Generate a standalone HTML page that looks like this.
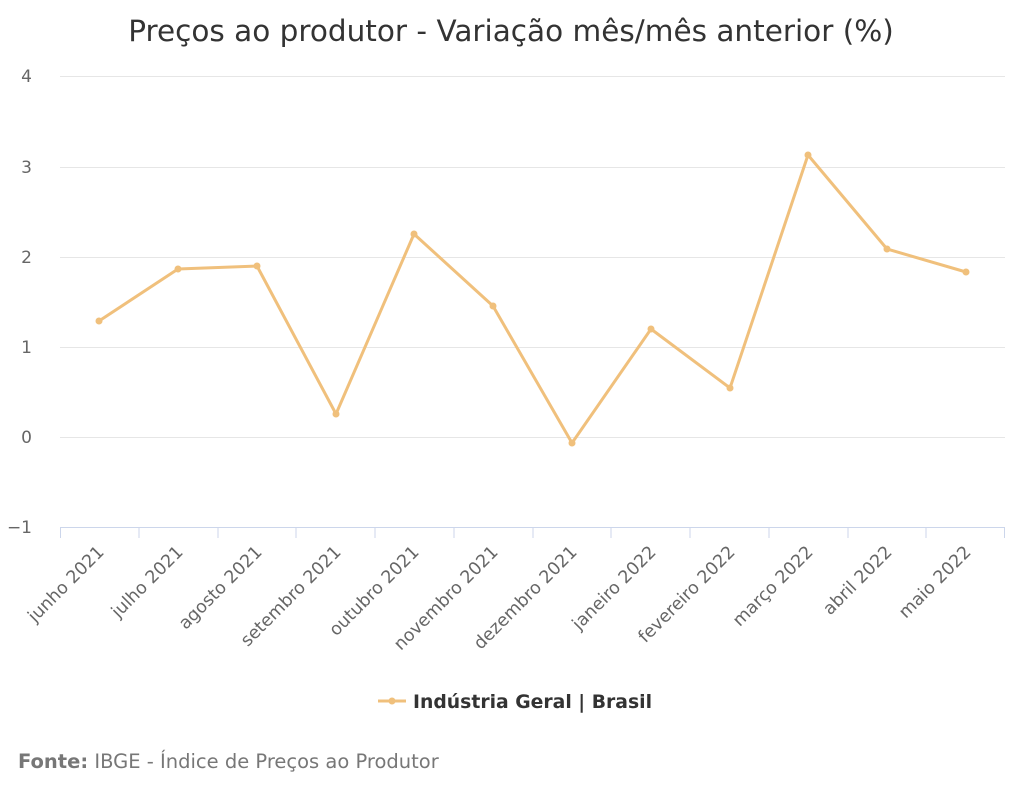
<!DOCTYPE html>
<html><head><meta charset="utf-8"><style>
html,body{margin:0;padding:0;background:#fff;}
svg{display:block;font-family:"DejaVu Sans","Liberation Sans",sans-serif;}
</style></head><body>
<svg width="1024" height="793" viewBox="0 0 1024 793">
<rect width="1024" height="793" fill="#fff"/>
<text x="511" y="41" text-anchor="middle" font-size="29.5" fill="#333">Preços ao produtor - Variação mês/mês anterior (%)</text>
<g stroke="#e6e6e6" stroke-width="1">
<line x1="60" x2="1005" y1="76.5" y2="76.5"/>
<line x1="60" x2="1005" y1="167.5" y2="167.5"/>
<line x1="60" x2="1005" y1="257.5" y2="257.5"/>
<line x1="60" x2="1005" y1="347.5" y2="347.5"/>
<line x1="60" x2="1005" y1="437.5" y2="437.5"/>
</g>
<line x1="60" x2="1005" y1="527.5" y2="527.5" stroke="#ccd6eb"/>
<g stroke="#ccd6eb">
<line x1="60.5" x2="60.5" y1="527" y2="538"/>
<line x1="139" x2="139" y1="527" y2="538"/>
<line x1="218" x2="218" y1="527" y2="538"/>
<line x1="296" x2="296" y1="527" y2="538"/>
<line x1="375" x2="375" y1="527" y2="538"/>
<line x1="454" x2="454" y1="527" y2="538"/>
<line x1="533" x2="533" y1="527" y2="538"/>
<line x1="611" x2="611" y1="527" y2="538"/>
<line x1="690" x2="690" y1="527" y2="538"/>
<line x1="769" x2="769" y1="527" y2="538"/>
<line x1="848" x2="848" y1="527" y2="538"/>
<line x1="926" x2="926" y1="527" y2="538"/>
<line x1="1004.5" x2="1004.5" y1="527" y2="538"/>
</g>
<g font-size="17" fill="#666" text-anchor="end">
<text x="32" y="82">4</text>
<text x="32" y="173">3</text>
<text x="32" y="263">2</text>
<text x="32" y="353">1</text>
<text x="32" y="443">0</text>
<text x="32" y="533">−1</text>
</g>
<g font-size="17.5" fill="#666" text-anchor="end">
<text transform="translate(105,553) rotate(-45)">junho 2021</text>
<text transform="translate(184,553) rotate(-45)">julho 2021</text>
<text transform="translate(263,553) rotate(-45)">agosto 2021</text>
<text transform="translate(342,553) rotate(-45)">setembro 2021</text>
<text transform="translate(420,553) rotate(-45)">outubro 2021</text>
<text transform="translate(499,553) rotate(-45)">novembro 2021</text>
<text transform="translate(578,553) rotate(-45)">dezembro 2021</text>
<text transform="translate(657,553) rotate(-45)">janeiro 2022</text>
<text transform="translate(736,553) rotate(-45)">fevereiro 2022</text>
<text transform="translate(814,553) rotate(-45)">março 2022</text>
<text transform="translate(893,553) rotate(-45)">abril 2022</text>
<text transform="translate(972,553) rotate(-45)">maio 2022</text>
</g>
<polyline fill="none" stroke="#f0c07c" stroke-width="3" stroke-linejoin="round" points="99,321 178,269 257,266 336,414 414,234 493,306 572,443 651,329 730,388 808,155 887,249 966,272"/>
<g fill="#f0c07c">
<circle cx="99" cy="321" r="3.5"/><circle cx="178" cy="269" r="3.5"/><circle cx="257" cy="266" r="3.5"/><circle cx="336" cy="414" r="3.5"/><circle cx="414" cy="234" r="3.5"/><circle cx="493" cy="306" r="3.5"/><circle cx="572" cy="443" r="3.5"/><circle cx="651" cy="329" r="3.5"/><circle cx="730" cy="388" r="3.5"/><circle cx="808" cy="155" r="3.5"/><circle cx="887" cy="249" r="3.5"/><circle cx="966" cy="272" r="3.5"/>
</g>
<line x1="378" x2="406" y1="701" y2="701" stroke="#f0c07c" stroke-width="3"/>
<circle cx="392" cy="701" r="3.5" fill="#f0c07c"/>
<text x="413" y="708" font-size="18.8" font-weight="bold" fill="#333">Indústria Geral | Brasil</text>
<text x="18" y="768" font-size="19.5" fill="#777"><tspan font-weight="bold">Fonte:</tspan> IBGE - Índice de Preços ao Produtor</text>
</svg>
</body></html>
